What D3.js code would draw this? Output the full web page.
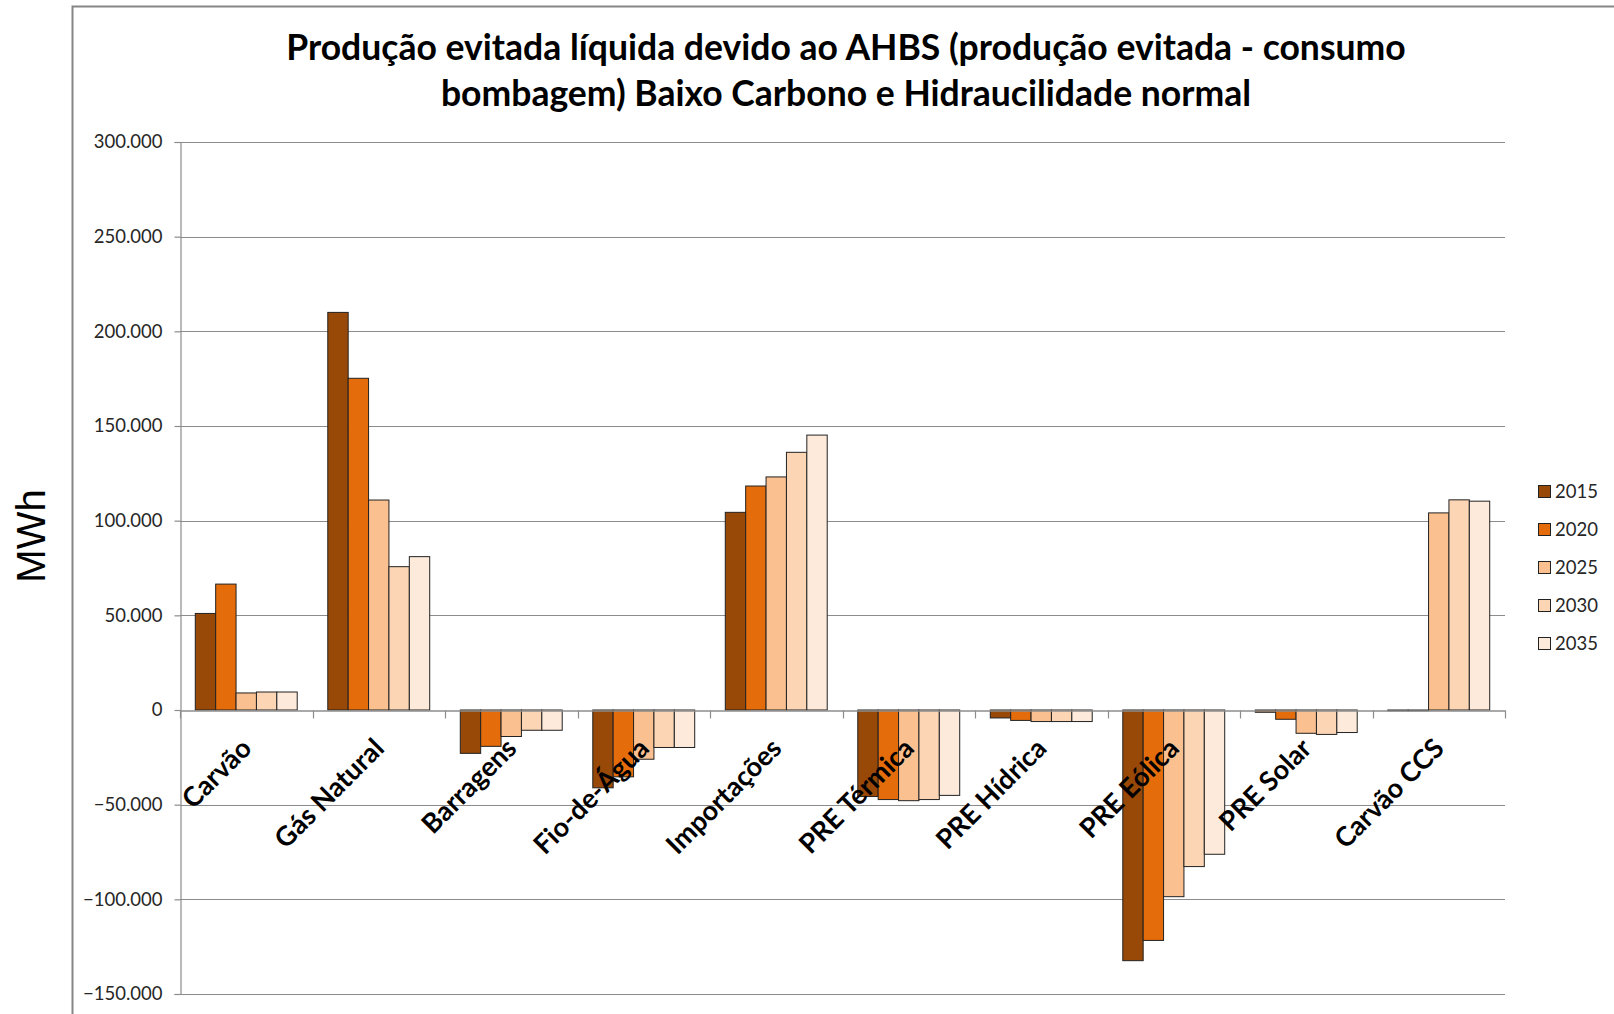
<!DOCTYPE html>
<html>
<head>
<meta charset="utf-8">
<script src="https://cdn.jsdelivr.net/npm/d3@7/dist/d3.min.js"></script>
<style>
  html, body { margin: 0; padding: 0; background: #fff; }
  svg { display: block; }
</style>
</head>
<body>
<svg id="chart" width="1614" height="1014"></svg>
<script>
const titleLines = ["Produção evitada líquida devido ao AHBS (produção evitada - consumo", "bombagem) Baixo Carbono e Hidraucilidade normal"];
const yAxisTitle = "MWh";
const categories = ["Carvão", "Gás Natural", "Barragens", "Fio-de-Água", "Importações", "PRE Térmica", "PRE Hídrica", "PRE Eólica", "PRE Solar", "Carvão CCS"];
const years = ["2015", "2020", "2025", "2030", "2035"];
const values2015 = [51000, 210000, -22900, -41100, 104400, -45700, -4200, -132400, -1200, -400];
const values2020 = [66500, 175200, -19200, -35300, 118300, -47300, -5500, -121700, -4900, -400];
const values2025 = [9000, 110900, -14000, -26000, 123100, -47900, -6100, -98600, -12300, 104100];
const values2030 = [9500, 75700, -10700, -19800, 136100, -47300, -6100, -82700, -12900, 111000];
const values2035 = [9500, 81000, -10700, -19800, 145200, -45100, -6100, -76200, -11900, 110300];
const seriesValues = [values2015, values2020, values2025, values2030, values2035];
const yTicks = [-150000, -100000, -50000, 0, 50000, 100000, 150000, 200000, 250000, 300000];
const colors = ["#984807", "#E46C0A", "#FAC090", "#FCD5B5", "#FDEADA"];

const svg = d3.select("#chart");
const plot = { left: 180, right: 1505, top: 142, bottom: 994 };

// outer chart border
svg.append("rect").attr("x", 72.5).attr("y", 6.5).attr("width", 1700).attr("height", 1200)
  .attr("fill", "#fff").attr("stroke", "#868686").attr("stroke-width", 2);

const y = d3.scaleLinear().domain([-150000, 300000]).range([plot.bottom, plot.top]);
const x0 = d3.scaleBand().domain(categories).range([plot.left, plot.right]).paddingInner(0).paddingOuter(0);
const x1 = d3.scaleBand().domain(years).range([0, x0.bandwidth()]).paddingInner(0).paddingOuter(0.75);

const fmt = v => d3.format(",")(v).replace(/,/g, ".");

// gridlines
svg.append("g").selectAll("line").data(yTicks.filter(t => t !== 0)).join("line")
  .attr("x1", plot.left).attr("x2", plot.right)
  .attr("y1", d => Math.round(y(d)) + 0.5).attr("y2", d => Math.round(y(d)) + 0.5)
  .attr("stroke", "#8c8c8c").attr("stroke-width", 1.2);

// y axis
const yAxis = d3.axisLeft(y).tickValues(yTicks).tickFormat(fmt).tickSize(6).tickPadding(12);
const gy = svg.append("g").attr("transform", `translate(${plot.left + 0.5},0)`).call(yAxis);
gy.select(".domain").attr("stroke", "#8c8c8c").attr("stroke-width", 1.2);
gy.selectAll(".tick line").attr("stroke", "#8c8c8c").attr("stroke-width", 1.2);
gy.selectAll(".tick text").attr("font-family", "Lato, sans-serif").attr("font-size", 18.5).attr("fill", "#262626");

// bars
const rows = categories.map((c, i) => ({ cat: c, vals: years.map((yr, j) => ({ year: yr, v: seriesValues[j][i], j })) }));
const groups = svg.append("g").selectAll("g").data(rows).join("g")
  .attr("transform", d => `translate(${x0(d.cat)},0)`);
groups.selectAll("rect").data(d => d.vals).join("rect")
  .attr("x", d => x1(d.year))
  .attr("width", x1.bandwidth())
  .attr("y", d => Math.min(y(d.v), y(0)))
  .attr("height", d => Math.abs(y(d.v) - y(0)))
  .attr("fill", d => colors[d.j])
  .attr("stroke", "#222").attr("stroke-width", 1);

// x axis (zero line) with ticks at category boundaries
const xAxis = d3.axisBottom(x0).tickSize(0).tickFormat("");
const gx = svg.append("g").attr("transform", `translate(0,${Math.round(y(0)) + 0.5})`).call(xAxis);
gx.select(".domain").attr("stroke", "#8c8c8c").attr("stroke-width", 1.5);
const boundaries = categories.map(c => x0(c)).concat([plot.right]);
gx.append("g").selectAll("line").data(boundaries).join("line")
  .attr("x1", d => Math.round(d) + 0.5).attr("x2", d => Math.round(d) + 0.5)
  .attr("y1", 0).attr("y2", 8).attr("stroke", "#8c8c8c").attr("stroke-width", 1.2);

// category labels rotated
svg.append("g").selectAll("text").data(categories).join("text")
  .attr("transform", d => `translate(${x0(d) + x0.bandwidth() / 2 + 7},${y(0) + 40}) rotate(-45)`)
  .attr("text-anchor", "end")
  .attr("font-family", "Lato, sans-serif").attr("font-weight", "bold").attr("font-size", 27)
  .attr("fill", "#000")
  .text(d => d);

// title
const tl = svg.append("g").selectAll("text").data(titleLines).join("text")
  .attr("x", 846).attr("y", (d, i) => i === 0 ? 60 : 106)
  .attr("text-anchor", "middle")
  .attr("font-family", "Lato, sans-serif").attr("font-weight", "bold").attr("font-size", 32)
  .attr("fill", "#000")
  .text(d => d);
const w0 = tl.nodes()[0].getComputedTextLength();
tl.attr("font-size", 32 * 1120 / w0);

// y axis title
svg.append("text")
  .attr("transform", "translate(45,536) rotate(-90)")
  .attr("text-anchor", "middle")
  .attr("font-family", "'Liberation Sans', Arial, sans-serif").attr("font-size", 40)
  .attr("fill", "#000")
  .text(yAxisTitle);

// legend
const legend = svg.append("g").selectAll("g").data(years).join("g")
  .attr("transform", (d, i) => `translate(1538,${492 + i * 38})`);
legend.append("rect").attr("x", 0.5).attr("y", -6.5).attr("width", 12).attr("height", 12)
  .attr("fill", (d, i) => colors[i]).attr("stroke", "#222").attr("stroke-width", 1);
legend.append("text").attr("x", 17).attr("y", 0).attr("dy", "0.35em")
  .attr("font-family", "Lato, sans-serif").attr("font-size", 18.5).attr("fill", "#262626")
  .text(d => d);
</script>
</body>
</html>
